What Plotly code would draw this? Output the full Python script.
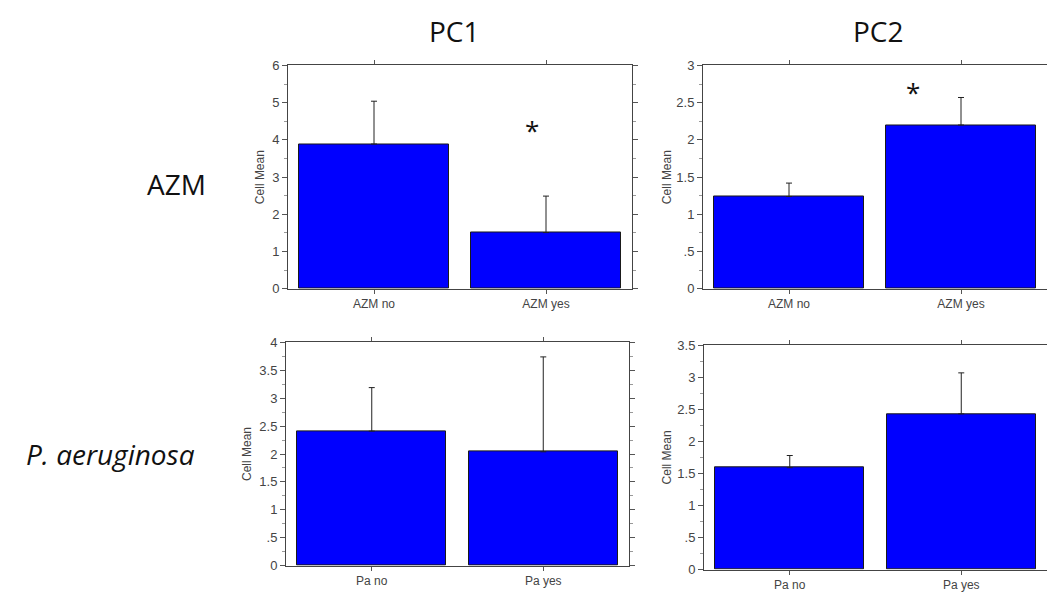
import plotly.graph_objects as go

# Group labels for each row of panels
azm_groups = ["AZM no", "AZM yes"]
pa_groups = ["Pa no", "Pa yes"]

# Cell means and upper error lengths (mean + SE) per panel
pc1_azm_mean = [3.89, 1.51]
pc1_azm_err = [1.15, 0.98]
pc2_azm_mean = [1.24, 2.20]
pc2_azm_err = [0.18, 0.37]
pc1_pa_mean = [2.41, 2.04]
pc1_pa_err = [0.78, 1.70]
pc2_pa_mean = [1.59, 2.43]
pc2_pa_err = [0.19, 0.64]

# Significance markers: (panel, x position in category units, y value)
sig_marks = [("pc1_azm", 0.92, 4.27), ("pc2_azm", 0.72, 2.64)]

# Y tick values / labels per panel
pc1_azm_ticks = [0, 1, 2, 3, 4, 5, 6]
pc1_azm_labels = ["0", "1", "2", "3", "4", "5", "6"]
pc2_azm_ticks = [0, 0.5, 1, 1.5, 2, 2.5, 3]
pc2_azm_labels = ["0", ".5", "1", "1.5", "2", "2.5", "3"]
pc1_pa_ticks = [0, 0.5, 1, 1.5, 2, 2.5, 3, 3.5, 4]
pc1_pa_labels = ["0", ".5", "1", "1.5", "2", "2.5", "3", "3.5", "4"]
pc2_pa_ticks = [0, 0.5, 1, 1.5, 2, 2.5, 3, 3.5]
pc2_pa_labels = ["0", ".5", "1", "1.5", "2", "2.5", "3", "3.5"]

W, H = 1048, 599
TICK_FONT = "Liberation Sans, Arial"

def px_x(p):
    return p / W

def px_y(p):
    return 1 - p / H

panels = [
    # key, axis suffix, groups, mean, err, y range, ticks, labels, minor dtick,
    # x px, y px, right mirror, y-title offset
    ("pc1_azm", "", azm_groups, pc1_azm_mean, pc1_azm_err, [0, 6], pc1_azm_ticks, pc1_azm_labels, 0.5,
     (288, 632), (60, 289), True, 28),
    ("pc2_azm", "2", azm_groups, pc2_azm_mean, pc2_azm_err, [0, 3], pc2_azm_ticks, pc2_azm_labels, 0.25,
     (703, 1047), (60, 289), False, 36),
    ("pc1_pa", "3", pa_groups, pc1_pa_mean, pc1_pa_err, [0, 4], pc1_pa_ticks, pc1_pa_labels, 0.25,
     (286, 629), (344, 573), True, 39),
    ("pc2_pa", "4", pa_groups, pc2_pa_mean, pc2_pa_err, [0, 3.5], pc2_pa_ticks, pc2_pa_labels, 0.25,
     (704, 1047), (347, 577), False, 37),
]

fig = go.Figure()
layout = {}
annotations = []
axis_of = {}

for key, ax, groups, mean, err, yr, tv, tt, mdt, xpx, ypx, mirror_right, title_off in panels:
    xa = "x" + ax
    ya = "y" + ax
    axis_of[key] = (xa, ya)
    fig.add_trace(go.Bar(
        x=[0, 1], y=mean, width=0.87,
        marker=dict(color="#0000FF", line=dict(color="#1a1a1a", width=1)),
        error_y=dict(type="data", array=err, arrayminus=[0, 0], symmetric=False,
                     color="#222222", thickness=1, width=3),
        xaxis=xa, yaxis=ya, showlegend=False, hoverinfo="skip",
    ))
    layout["xaxis" + ax] = dict(
        domain=[px_x(xpx[0]), px_x(xpx[1])], anchor=ya, range=[-0.5, 1.5],
        tickvals=[0, 1], ticktext=groups, ticks="outside", ticklen=4, tickcolor="#555",
        showline=True, linecolor="#444", linewidth=1, mirror="ticks",
        showgrid=False, zeroline=False, fixedrange=True,
        tickfont=dict(family=TICK_FONT, size=12, color="#444"),
    )
    layout["yaxis" + ax] = dict(
        domain=[px_y(ypx[1]), px_y(ypx[0])], anchor=xa, range=yr,
        tickvals=tv, ticktext=tt, ticks="outside", ticklen=5, tickcolor="#555",
        showline=True, linecolor="#444", linewidth=1,
        mirror="ticks" if mirror_right else False,
        minor=dict(dtick=mdt, ticks="outside", ticklen=3, tickcolor="#999"),
        showgrid=False, zeroline=False, fixedrange=True,
        tickfont=dict(family=TICK_FONT, size=13, color="#444"),
    )
    # "Cell Mean" axis title placed just left of the tick labels
    annotations.append(dict(
        text="Cell Mean", textangle=-90, showarrow=False,
        xref="paper", yref="paper",
        x=px_x(xpx[0] - title_off), y=px_y((ypx[0] + ypx[1]) / 2),
        xanchor="center", yanchor="middle",
        font=dict(family=TICK_FONT, size=12, color="#444"),
    ))

for key, xv, yv in sig_marks:
    xa, ya = axis_of[key]
    annotations.append(dict(
        text="*", showarrow=False, xref=xa, yref=ya, x=xv, y=yv,
        xanchor="center", yanchor="middle",
        font=dict(family="Open Sans", size=26, color="#111"),
    ))

# Column and row headings
headings = [
    ("PC1", 454, 25),
    ("PC2", 878, 25),
    ("AZM", 176, 182),
    ("<i>P. aeruginosa</i>", 110, 458),
]
for txt, x, y in headings:
    annotations.append(dict(
        text=txt, showarrow=False, xref="paper", yref="paper",
        x=px_x(x), y=px_y(y), xanchor="center", yanchor="middle",
        font=dict(family="Open Sans", size=28, color="#111"),
    ))

fig.update_layout(
    width=W, height=H, margin=dict(l=0, r=0, t=0, b=0),
    paper_bgcolor="white", plot_bgcolor="white",
    annotations=annotations, bargap=0, **layout,
)

fig.write_html("out.html", config={"displayModeBar": False})
